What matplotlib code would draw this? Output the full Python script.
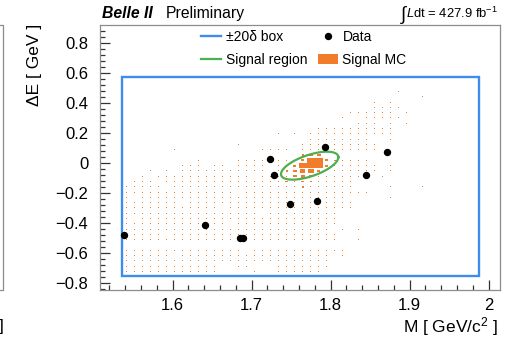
import numpy as np
import matplotlib
matplotlib.use("Agg")
import matplotlib.pyplot as plt
from matplotlib.patches import Rectangle, Patch
from matplotlib.collections import PatchCollection
from matplotlib.lines import Line2D
from matplotlib.ticker import MultipleLocator, FuncFormatter

plt.rcParams["font.family"] = ["Liberation Sans", "DejaVu Sans"]
plt.rcParams["mathtext.fontset"] = "custom"
plt.rcParams["mathtext.rm"] = "Liberation Sans"
plt.rcParams["mathtext.it"] = "Liberation Sans:italic"
plt.rcParams["mathtext.bf"] = "Liberation Sans:bold"

# data candidates (M, dE)
data_m = [1.538, 1.6413, 1.6852, 1.6886, 1.7228, 1.7278, 1.748, 1.783, 1.7928, 1.8443, 1.8717]
data_de = [-0.480, -0.411, -0.502, -0.502, 0.025, -0.082, -0.275, -0.253, 0.105, -0.080, 0.075]

# +-20 delta box
box_m = [1.536, 1.9877]
box_de = [-0.756, 0.571]

# signal region ellipse: centre, half widths, phase
ell_center = (1.7734, -0.018)
ell_half = (0.0363, 0.0933)
ell_phase = np.deg2rad(53)

# signal MC, 2D histogram drawn as boxes (ROOT "box" style)
# one string per row, top row first, '|' every 10 bins, '.' = empty, base-36 count
mc_x_range = (1.5367, 1.9924)
mc_y_range = (-0.847, 0.918)
mc_nbins = (45, 50)
mc_top_row = 37
mc_rows = [
    "..........|..........|..........|....1...",
    "..........|..........|..........|.......1",
    "..........|..........|..........|.1.1....",
    "..........|..........|..........|.1111...",
    "..........|..........|........11|1111.1..",
    "..........|..........|.......1..|11111...",
    "..........|..........|.........1|11.1.1..",
    "..........|..........|....111111|1111....",
    "..........|.........1|.1.1111111|1111....",
    "..........|..........|...1111111|1..1....",
    "..........|....1.....|..111.1111|11......",
    "......1...|.......111|1.11111111|11......",
    ".........1|1...111111|1139911111|.1.1...1",
    ".........1|....111111|125zw52111|1.......",
    ".......111|.11.1111.1|25zzw51111|11.1....",
    "...1.1.111|11111111.1|29gm411111|11.1....",
    "..1.111111|111111.111|1894111111|1.1.....",
    ".111.11111|1111111111|414311111.|........",
    "11111.1111|1111111111|113111111.|...1...1",
    "1111111111|1111.11111|1111111111|1.......",
    "1.11111111|1111111111|11111111..|...1....",
    "1111111.11|1111111111|111111111.|........",
    "1111111111|11.1111111|111111111.|........",
    "1111111111|1111111.11|1111111...|........",
    "1.11111111|1111111111|1111111...|........",
    "1111111111|111.111111|1111111...|........",
    "1111111111|1111111111|111111.1.1|........",
    "11111.1111|1111111111|1111111...|........",
    "1111111111|1111.11111|1111111..1|........",
    "1111111111|1111111111|1111111...|........",
    "1111111111|11111.1111|11111111..|........",
    "111111.111|1111111111|111111.1..|........",
    "1111111111|1111111111|111111....|........",
    "1111111111|11..11...1|111111....|........",
    "1111111111|11....1..1|11111.....|........",
]

x_lim = (1.508, 2.0143)
y_lim = (-0.847, 0.918)

blue = "#3d8cf0"
green = "#4cb050"
orange = "#f07c2c"

W, H = 521, 338
fig = plt.figure(figsize=(W / 100, H / 100), dpi=100)
ax = fig.add_axes([100 / W, 1 - 290 / H, 400 / W, 264.7 / H])

# histogram counts from the row strings
nbx, nby = mc_nbins
counts = np.zeros((nby, nbx))
for k, row in enumerate(mc_rows):
    row = row.replace("|", "").ljust(nbx, ".")
    for c, ch in enumerate(row):
        if ch != ".":
            counts[mc_top_row - k, c] = int(ch, 36)

xedges = np.linspace(*mc_x_range, nbx + 1)
yedges = np.linspace(*mc_y_range, nby + 1)
bw = xedges[1] - xedges[0]
bh = yedges[1] - yedges[0]
xc = 0.5 * (xedges[1:] + xedges[:-1])
yc = 0.5 * (yedges[1:] + yedges[:-1])
frac = np.sqrt(counts / counts.max())

boxes = []
for r, c in zip(*np.nonzero(counts)):
    f = frac[r, c]
    boxes.append(Rectangle((xc[c] - f * bw / 2, yc[r] - f * bh / 2), f * bw, f * bh))
ax.add_collection(PatchCollection(boxes, facecolor=orange, edgecolor="none", zorder=2))

# box and signal region
ax.add_patch(Rectangle((box_m[0], box_de[0]), box_m[1] - box_m[0], box_de[1] - box_de[0],
                       fill=False, edgecolor=blue, lw=1.7, zorder=3))
t = np.linspace(0, 2 * np.pi, 300)
ax.plot(ell_center[0] + ell_half[0] * np.cos(t),
        ell_center[1] + ell_half[1] * np.cos(t - ell_phase),
        color=green, lw=1.6, zorder=4)

ax.plot(data_m, data_de, "o", color="black", ms=4.3, zorder=5)

ax.set_xlim(*x_lim)
ax.set_ylim(*y_lim)

fmt = FuncFormatter(lambda v, p: f"{round(v, 3):g}".replace("-", "\u2212"))
ax.xaxis.set_major_locator(MultipleLocator(0.1))
ax.xaxis.set_minor_locator(MultipleLocator(0.02))
ax.yaxis.set_major_locator(MultipleLocator(0.2))
ax.yaxis.set_minor_locator(MultipleLocator(0.04))
ax.xaxis.set_major_formatter(fmt)
ax.yaxis.set_major_formatter(fmt)
ax.tick_params(which="both", direction="in", top=False, right=False, color="#333333", width=0.9)
ax.tick_params(which="major", length=7)
ax.tick_params(which="minor", length=3.5)
ax.tick_params(axis="x", labelsize=12, pad=6)
ax.tick_params(axis="y", labelsize=12, pad=8.5)
for sp in ax.spines.values():
    sp.set_color("#8c8c8c")
    sp.set_linewidth(0.9)

handles = [
    Line2D([], [], color=blue, lw=1.7),
    Line2D([], [], color=green, lw=1.6),
    Line2D([], [], ls="none", marker="o", color="black", ms=4.3),
    Patch(facecolor=orange, edgecolor="none"),
]
labels = ["\u00b120\u03b4 box", "Signal region", "Data", "Signal MC"]
ax.legend(handles, labels, ncol=2, loc="upper left", bbox_to_anchor=(0.253, 0.982),
          frameon=False, fontsize=10, handlelength=1.45, handletextpad=0.3,
          columnspacing=0.8, labelspacing=0.62, borderpad=0, borderaxespad=0)

# labels and header
fig.text(35 / W, 1 - 24 / H, "\u0394E [ GeV ]", rotation=90, ha="center", va="top", fontsize=12.5)
fig.text(498 / W, 1 - 332.5 / H, "M [ GeV/c$^{2}$ ]", ha="right", va="baseline", fontsize=12.5)
fig.text(102 / W, 1 - 18.3 / H, "Belle II", fontsize=11.3, fontweight="bold", fontstyle="italic",
         va="baseline")
fig.text(166 / W, 1 - 18.3 / H, "Preliminary", fontsize=11.3, va="baseline")

lumi = fig.text(498 / W, 1 - 18.3 / H, r"$\mathit{L}$dt = 427.9 fb$^{-1}$", fontsize=9.4,
                ha="right", va="baseline")
renderer = fig.canvas.get_renderer()
lumi_x0 = lumi.get_window_extent(renderer).x0
fig.text((lumi_x0 - 0.5) / W, 1 - 19.5 / H, "\u222b", fontsize=13.5, ha="right", va="baseline")

# edge of the neighbouring panel
fig.add_artist(Line2D([0, 3 / W, 3 / W, 0], [1 - 24.5 / H, 1 - 24.5 / H, 1 - 290 / H, 1 - 290 / H],
                      transform=fig.transFigure, color="#8c8c8c", lw=0.9))
fig.text(3.5 / W, 1 - 331.5 / H, "]", ha="right", va="baseline", fontsize=12.5)

fig.savefig("out.png", dpi=100)
